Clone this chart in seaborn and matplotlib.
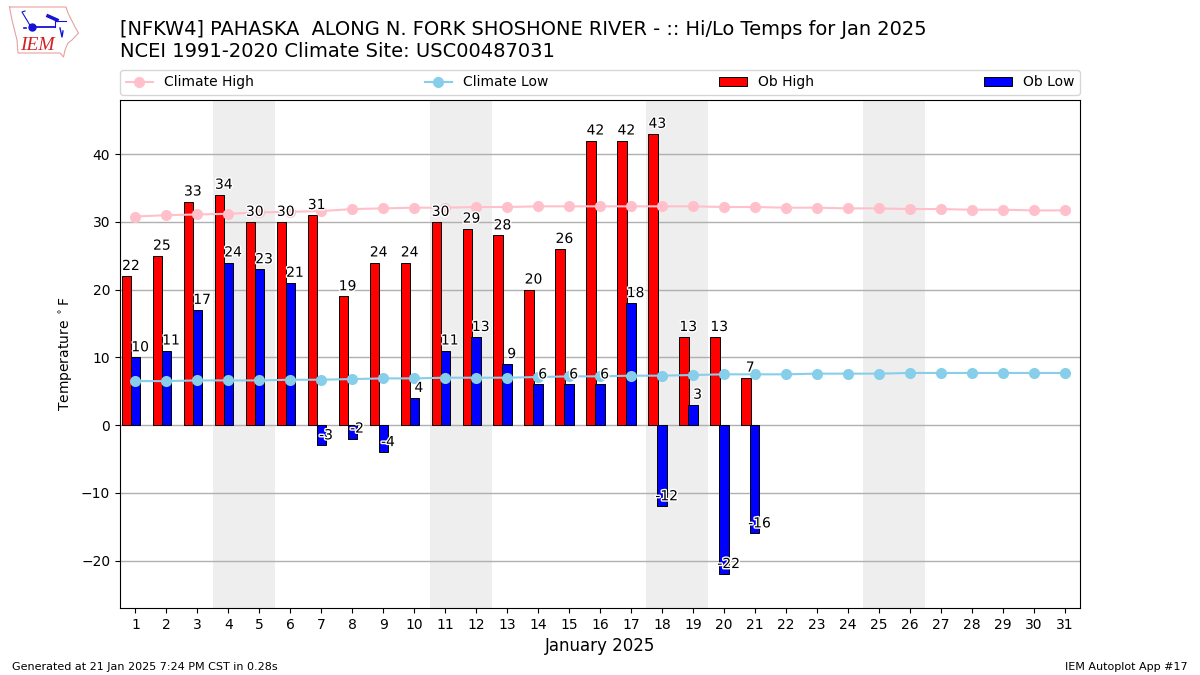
import numpy as np
import pandas as pd
import seaborn as sns
import matplotlib
matplotlib.use("Agg")
import matplotlib.pyplot as plt
import matplotlib.patheffects as pe

days = list(range(1, 32))
ob_days = list(range(1, 22))
ob_high = [22, 25, 33, 34, 30, 30, 31, 19, 24, 24, 30, 29, 28, 20, 26, 42, 42, 43, 13, 13, 7]
ob_low = [10, 11, 17, 24, 23, 21, -3, -2, -4, 4, 11, 13, 9, 6, 6, 6, 18, -12, 3, -22, -16]
climate_high = [30.8, 31.0, 31.1, 31.2, 31.4, 31.5, 31.6, 31.9, 32.0, 32.1, 32.1,
                32.2, 32.2, 32.3, 32.3, 32.3, 32.3, 32.3, 32.3, 32.2, 32.2, 32.1,
                32.1, 32.0, 32.0, 31.9, 31.9, 31.8, 31.8, 31.7, 31.7]
climate_low = [6.5, 6.5, 6.6, 6.6, 6.6, 6.7, 6.7, 6.8, 6.9, 6.9, 7.0, 7.0, 7.0,
               7.1, 7.2, 7.2, 7.3, 7.3, 7.4, 7.5, 7.5, 7.5, 7.6, 7.6, 7.6, 7.7,
               7.7, 7.7, 7.7, 7.7, 7.7]
weekends = [(3.5, 5.5), (10.5, 12.5), (17.5, 19.5), (24.5, 26.5)]

ob = pd.DataFrame({"day": ob_days, "high": ob_high, "low": ob_low})
clim = pd.DataFrame({"day": days, "high": climate_high, "low": climate_low})

fig = plt.figure(figsize=(12, 6.75), dpi=100)
ax = fig.add_axes([120 / 1200, 1 - 608 / 675, 960 / 1200, 508 / 675])

# weekends get a grey band
for start, end in weekends:
    ax.axvspan(start, end, color="#eeeeee", lw=0, zorder=0)

# bars are offset from the day by hand, same as the original
sns.barplot(x=ob["day"] - 0.29, y=ob["high"], native_scale=True, width=0.3, color="red",
            saturation=1, edgecolor="black", linewidth=0.7, errorbar=None, ax=ax,
            label="Ob High", zorder=2)
sns.barplot(x=ob["day"], y=ob["low"], native_scale=True, width=0.3, color="blue",
            saturation=1, edgecolor="black", linewidth=0.7, errorbar=None, ax=ax,
            label="Ob Low", zorder=2)

sns.lineplot(x="day", y="high", data=clim, color="pink", marker="o", markersize=8,
             markeredgewidth=0, linewidth=1.5, label="Climate High", ax=ax, zorder=3)
sns.lineplot(x="day", y="low", data=clim, color="skyblue", marker="o", markersize=8,
             markeredgewidth=0, linewidth=1.5, label="Climate Low", ax=ax, zorder=3)

# value labels
stroke = [pe.withStroke(linewidth=2, foreground="white")]
for d, hi, lo in zip(ob_days, ob_high, ob_low):
    ax.text(d - 0.15, hi + 0.9, str(hi), ha="center", va="baseline", fontsize=10,
            path_effects=stroke, zorder=4)
    ax.text(d + 0.15, lo + 0.9, str(lo), ha="center", va="baseline", fontsize=10,
            path_effects=stroke, zorder=4)

ax.set_xlim(0.5, 31.5)
ax.set_ylim(-27, 48)
ax.set_xticks(days)
ax.set_xticklabels([str(d) for d in days])
ax.set_yticks(np.arange(-20, 41, 10))
ax.grid(True, axis="y", color="#b0b0b0", linewidth=1, zorder=1)
ax.set_axisbelow(True)
ax.set_xlabel("January 2025", fontsize=12)
ax.set_ylabel(r"Temperature $^\circ$F", fontsize=10)

handles, labels = ax.get_legend_handles_labels()
order = [labels.index(n) for n in ["Climate High", "Climate Low", "Ob High", "Ob Low"]]
ax.legend([handles[i] for i in order], [labels[i] for i in order], loc="lower left",
          bbox_to_anchor=(0, 1.01, 1, 0.05), mode="expand", ncol=4, borderaxespad=0,
          fontsize=10)

fig.text(120 / 1200, 1 - 35 / 675, "[NFKW4] PAHASKA  ALONG N. FORK SHOSHONE RIVER - :: Hi/Lo Temps for Jan 2025",
         fontsize=13.97, va="baseline")
fig.text(120 / 1200, 1 - 57 / 675, "NCEI 1991-2020 Climate Site: USC00487031", fontsize=14, va="baseline")
fig.text(12 / 1200, 1 - 670 / 675, "Generated at 21 Jan 2025 7:24 PM CST in 0.28s", fontsize=8, va="baseline")
fig.text(1188 / 1200, 1 - 670 / 675, "IEM Autoplot App #17", fontsize=8, ha="right", va="baseline")

# rough IEM logo, pixel coords
logo = fig.add_axes([0, 1 - 60 / 675, 80 / 1200, 60 / 675])
logo.set_xlim(0, 80)
logo.set_ylim(60, 0)
logo.axis("off")
logo.plot([9.5, 66, 68, 75, 78.5, 72, 68, 65, 63.5, 60, 18, 17, 12, 9.5],
          [7, 7, 13, 27, 33, 40, 43, 50, 57, 53, 53, 40, 20, 7], color="#e8a0a0", lw=0.8)
logo.plot([32, 55], [27, 27], color="#1414d2", lw=1.3)
logo.plot([56, 66], [21, 21], color="#1414d2", lw=0.8)
logo.plot([32], [27], "o", color="#1414d2", ms=5)
logo.plot([48, 57], [16, 20], color="#1414d2", lw=2.5)
logo.plot([55, 55], [21, 27], color="#1414d2", lw=0.8)
logo.plot([31, 22, 25], [27, 12, 11], color="#1414d2", lw=0.8)
logo.plot([24, 26], [28, 28], color="#1414d2", lw=1.2)
logo.plot([60, 62, 63], [28, 37, 31], color="#1414d2", lw=1)
logo.text(37, 45, "IEM", color="#d42020", family="Liberation Serif", style="italic",
          fontsize=14, ha="center", va="center")

fig.savefig("out.png", dpi=100)
